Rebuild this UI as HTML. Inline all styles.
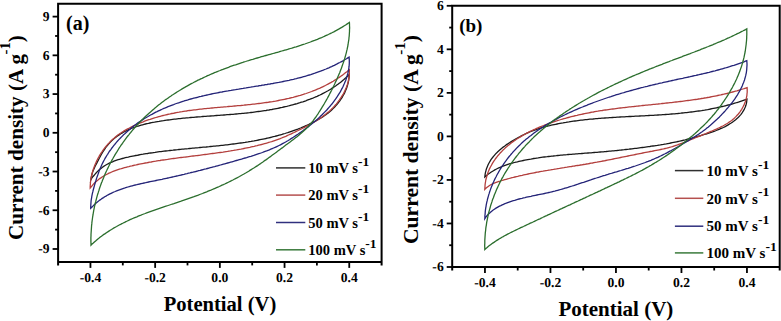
<!DOCTYPE html>
<html><head><meta charset="utf-8"><style>
html,body{margin:0;padding:0;background:#fff;}
svg{display:block;}
text{font-family:"Liberation Serif",serif;font-weight:bold;fill:#000;}
.tl{font-size:13.6px;text-rendering:geometricPrecision;}
.at{font-size:20.6px;}
</style></head><body>
<svg width="781" height="321" viewBox="0 0 781 321">
<path d="M90.9 179.8 91.1 178.2 91.4 176.7 91.7 175.2 92.1 173.8 92.5 172.4 93.0 171.1 93.6 169.7 94.2 168.4 94.8 167.1 95.4 165.8 96.1 164.5 96.8 163.1 97.5 161.7 98.2 160.4 98.9 159.0 99.7 157.5 100.4 156.1 101.2 154.7 102.0 153.3 102.8 152.0 103.7 150.6 104.6 149.3 105.5 148.0 106.4 146.7 107.4 145.5 108.3 144.3 109.3 143.2 110.4 142.1 111.4 141.0 112.5 140.0 113.6 139.0 114.8 138.1 115.9 137.2 117.1 136.3 118.3 135.4 119.5 134.6 120.7 133.8 122.0 133.1 123.3 132.3 124.5 131.6 125.8 131.0 127.2 130.3 128.5 129.7 129.9 129.1 131.2 128.5 132.6 128.0 134.0 127.5 135.4 127.0 136.8 126.5 138.2 126.0 139.7 125.6 141.1 125.2 142.6 124.8 144.0 124.4 145.5 124.0 147.0 123.7 148.5 123.4 150.0 123.0 151.5 122.7 153.0 122.4 154.5 122.2 156.0 121.9 157.5 121.6 159.0 121.4 160.5 121.1 162.0 120.9 163.5 120.7 165.1 120.4 166.6 120.2 168.1 120.0 169.6 119.8 171.1 119.6 172.6 119.4 174.2 119.2 175.7 119.1 177.2 118.9 178.7 118.7 180.2 118.6 181.7 118.4 183.2 118.2 184.8 118.1 186.3 117.9 187.8 117.8 189.3 117.7 190.8 117.5 192.3 117.4 193.8 117.3 195.3 117.1 196.9 117.0 198.4 116.9 199.9 116.8 201.4 116.7 202.9 116.5 204.4 116.4 205.9 116.3 207.4 116.2 209.0 116.1 210.5 116.0 212.0 115.9 213.5 115.8 215.0 115.6 216.5 115.5 218.0 115.4 219.5 115.3 221.0 115.2 222.5 115.1 224.0 115.0 225.5 114.9 227.0 114.7 228.6 114.6 230.1 114.5 231.6 114.4 233.1 114.3 234.6 114.1 236.1 114.0 237.6 113.9 239.1 113.7 240.6 113.6 242.1 113.4 243.6 113.3 245.1 113.1 246.6 113.0 248.1 112.8 249.6 112.7 251.1 112.5 252.6 112.3 254.1 112.1 255.6 111.9 257.0 111.7 258.5 111.5 260.0 111.3 261.5 111.1 263.0 110.9 264.5 110.7 266.0 110.5 267.5 110.2 269.0 110.0 270.5 109.7 271.9 109.5 273.4 109.2 274.9 108.9 276.4 108.6 277.9 108.3 279.4 108.0 280.8 107.7 282.3 107.4 283.8 107.0 285.3 106.7 286.8 106.4 288.2 106.0 289.7 105.6 291.2 105.2 292.6 104.8 294.1 104.4 295.6 104.0 297.1 103.6 298.5 103.1 300.0 102.7 301.4 102.2 302.9 101.8 304.3 101.3 305.8 100.8 307.2 100.2 308.7 99.7 310.1 99.2 311.5 98.6 312.9 98.1 314.3 97.5 315.7 96.9 317.1 96.3 318.5 95.6 319.9 95.0 321.3 94.3 322.6 93.6 324.0 92.9 325.3 92.2 326.6 91.5 328.0 90.8 329.3 90.0 330.6 89.2 331.8 88.4 333.1 87.6 334.4 86.8 335.6 86.0 336.8 85.1 338.0 84.2 339.2 83.3 340.4 82.4 341.6 81.4 342.7 80.5 343.9 79.5 345.0 78.5 346.1 77.5 347.2 76.4 348.3 75.4 349.3 74.3 349.2 75.8 349.1 77.3 348.9 78.8 348.7 80.3 348.4 81.7 348.1 83.2 347.7 84.6 347.3 86.1 346.8 87.5 346.3 88.9 345.7 90.3 345.1 91.7 344.5 93.1 343.8 94.4 343.0 95.8 342.3 97.1 341.5 98.4 340.6 99.6 339.8 100.9 338.8 102.1 337.9 103.3 336.9 104.5 335.9 105.6 334.9 106.8 333.9 107.8 332.8 108.9 331.7 109.9 330.6 110.9 329.4 111.9 328.3 112.9 327.1 113.8 325.9 114.7 324.6 115.5 323.4 116.4 322.2 117.2 320.9 118.0 319.6 118.8 318.3 119.5 317.0 120.3 315.7 121.0 314.3 121.7 313.0 122.4 311.6 123.1 310.3 123.7 308.9 124.4 307.5 125.0 306.1 125.6 304.8 126.2 303.4 126.8 302.0 127.4 300.6 128.0 299.2 128.5 297.8 129.1 296.4 129.6 294.9 130.1 293.5 130.6 292.1 131.1 290.7 131.6 289.2 132.1 287.8 132.6 286.4 133.0 284.9 133.5 283.5 133.9 282.0 134.4 280.6 134.8 279.1 135.2 277.7 135.6 276.2 136.0 274.7 136.4 273.3 136.7 271.8 137.1 270.3 137.5 268.9 137.8 267.4 138.1 265.9 138.5 264.4 138.8 263.0 139.1 261.5 139.4 260.0 139.7 258.5 140.0 257.0 140.3 255.5 140.6 254.1 140.9 252.6 141.1 251.1 141.4 249.6 141.6 248.1 141.9 246.6 142.1 245.1 142.4 243.6 142.6 242.1 142.8 240.7 143.0 239.2 143.2 237.7 143.4 236.2 143.6 234.7 143.8 233.2 144.0 231.7 144.2 230.2 144.4 228.7 144.6 227.2 144.8 225.7 144.9 224.2 145.1 222.7 145.3 221.2 145.4 219.7 145.6 218.2 145.8 216.7 145.9 215.2 146.1 213.7 146.2 212.2 146.4 210.7 146.5 209.2 146.7 207.7 146.8 206.1 147.0 204.6 147.1 203.1 147.2 201.6 147.4 200.1 147.5 198.6 147.7 197.1 147.8 195.6 147.9 194.1 148.1 192.6 148.2 191.1 148.4 189.6 148.5 188.1 148.7 186.6 148.8 185.1 148.9 183.6 149.1 182.1 149.2 180.6 149.4 179.1 149.5 177.6 149.7 176.1 149.8 174.5 150.0 173.0 150.2 171.5 150.3 170.0 150.5 168.5 150.7 167.0 150.8 165.5 151.0 164.0 151.2 162.5 151.4 161.0 151.6 159.5 151.7 158.0 151.9 156.6 152.1 155.1 152.4 153.6 152.6 152.1 152.8 150.6 153.0 149.1 153.2 147.6 153.5 146.1 153.7 144.6 153.9 143.1 154.2 141.6 154.4 140.1 154.7 138.7 155.0 137.2 155.3 135.7 155.5 134.2 155.8 132.7 156.1 131.2 156.4 129.8 156.7 128.3 157.1 126.8 157.4 125.3 157.7 123.9 158.1 122.4 158.5 121.0 158.9 119.5 159.3 118.1 159.7 116.7 160.2 115.3 160.7 113.9 161.2 112.5 161.8 111.1 162.3 109.8 162.9 108.5 163.6 107.2 164.3 105.9 165.0 104.6 165.8 103.4 166.6 102.2 167.5 101.0 168.4 99.8 169.3 98.7 170.3 97.6 171.4 96.5 172.5 95.5 173.6 94.5 174.8 93.5 176.0 92.5 177.2 91.6 178.5Z" fill="none" stroke="#1a1a1a" stroke-width="1.3" stroke-linejoin="miter" stroke-miterlimit="20"/>
<path d="M90.2 188.0 90.2 186.5 90.3 185.0 90.4 183.5 90.5 182.0 90.7 180.5 90.9 179.0 91.2 177.6 91.5 176.1 91.8 174.6 92.2 173.2 92.6 171.7 93.0 170.3 93.5 168.8 94.0 167.4 94.5 166.0 95.1 164.6 95.7 163.2 96.3 161.8 97.0 160.4 97.6 159.1 98.3 157.7 99.1 156.4 99.8 155.1 100.6 153.8 101.4 152.5 102.3 151.3 103.1 150.1 104.0 148.8 104.9 147.6 105.9 146.5 106.9 145.3 107.8 144.2 108.9 143.1 109.9 142.0 111.0 140.9 112.0 139.9 113.1 138.9 114.3 137.9 115.4 136.9 116.6 136.0 117.8 135.1 119.0 134.2 120.3 133.4 121.5 132.5 122.8 131.7 124.1 130.9 125.4 130.1 126.7 129.4 128.1 128.7 129.4 128.0 130.7 127.3 132.1 126.6 133.5 125.9 134.8 125.3 136.2 124.7 137.6 124.1 139.0 123.5 140.4 122.9 141.8 122.3 143.2 121.8 144.6 121.2 146.0 120.7 147.4 120.2 148.8 119.7 150.2 119.3 151.6 118.8 153.0 118.3 154.5 117.9 155.9 117.5 157.3 117.1 158.8 116.7 160.2 116.3 161.6 115.9 163.1 115.5 164.5 115.2 166.0 114.8 167.4 114.5 168.9 114.2 170.3 113.9 171.8 113.5 173.3 113.3 174.7 113.0 176.2 112.7 177.7 112.4 179.1 112.2 180.6 111.9 182.1 111.7 183.6 111.4 185.1 111.2 186.5 111.0 188.0 110.7 189.5 110.5 191.0 110.3 192.5 110.1 194.0 109.9 195.5 109.8 197.0 109.6 198.5 109.4 200.0 109.2 201.5 109.1 203.0 108.9 204.5 108.7 206.0 108.6 207.5 108.4 209.0 108.3 210.5 108.1 212.0 108.0 213.5 107.9 215.0 107.7 216.5 107.6 218.0 107.4 219.6 107.3 221.1 107.2 222.6 107.1 224.1 106.9 225.6 106.8 227.1 106.7 228.7 106.5 230.2 106.4 231.7 106.3 233.2 106.1 234.7 106.0 236.2 105.9 237.7 105.7 239.3 105.6 240.8 105.5 242.3 105.3 243.8 105.2 245.3 105.0 246.8 104.9 248.4 104.7 249.9 104.6 251.4 104.4 252.9 104.2 254.4 104.1 255.9 103.9 257.4 103.7 258.9 103.5 260.5 103.3 262.0 103.1 263.5 102.9 265.0 102.7 266.5 102.5 268.0 102.3 269.5 102.0 271.0 101.8 272.5 101.6 274.0 101.3 275.5 101.1 277.0 100.8 278.5 100.5 279.9 100.2 281.4 99.9 282.9 99.6 284.4 99.3 285.9 99.0 287.3 98.7 288.8 98.4 290.3 98.0 291.7 97.6 293.2 97.3 294.6 96.9 296.1 96.5 297.5 96.1 299.0 95.7 300.4 95.3 301.8 94.8 303.3 94.4 304.7 93.9 306.1 93.5 307.5 93.0 308.9 92.5 310.3 92.0 311.7 91.5 313.1 90.9 314.5 90.4 315.9 89.8 317.3 89.2 318.6 88.7 320.0 88.1 321.4 87.4 322.7 86.8 324.0 86.2 325.4 85.5 326.7 84.8 328.0 84.1 329.3 83.4 330.7 82.7 332.0 81.9 333.2 81.2 334.5 80.4 335.8 79.6 337.1 78.8 338.3 78.0 339.6 77.1 340.8 76.3 342.1 75.4 343.3 74.5 344.5 73.6 345.7 72.6 346.9 71.7 348.1 70.7 349.3 69.7 349.4 71.2 349.3 72.7 349.3 74.2 349.2 75.7 349.0 77.1 348.8 78.6 348.5 80.1 348.2 81.5 347.8 83.0 347.4 84.4 346.9 85.8 346.4 87.2 345.8 88.6 345.2 90.0 344.6 91.4 343.9 92.7 343.2 94.1 342.4 95.4 341.6 96.7 340.8 98.0 339.9 99.2 339.1 100.5 338.1 101.7 337.2 102.9 336.2 104.1 335.2 105.2 334.2 106.4 333.2 107.5 332.1 108.6 331.0 109.6 329.9 110.7 328.8 111.7 327.6 112.6 326.5 113.6 325.3 114.5 324.1 115.4 322.9 116.3 321.7 117.2 320.5 118.1 319.2 118.9 318.0 119.7 316.7 120.5 315.4 121.3 314.1 122.1 312.8 122.8 311.5 123.6 310.2 124.3 308.9 125.0 307.5 125.7 306.2 126.4 304.9 127.1 303.5 127.8 302.2 128.5 300.8 129.2 299.4 129.8 298.1 130.5 296.7 131.2 295.4 131.8 294.0 132.5 292.6 133.1 291.3 133.8 289.9 134.4 288.5 135.0 287.2 135.6 285.8 136.3 284.4 136.9 283.0 137.4 281.6 138.0 280.2 138.6 278.8 139.1 277.4 139.6 276.0 140.1 274.6 140.6 273.1 141.1 271.7 141.6 270.3 142.0 268.8 142.4 267.4 142.9 265.9 143.3 264.5 143.7 263.0 144.1 261.5 144.5 260.1 144.8 258.6 145.2 257.2 145.6 255.7 145.9 254.2 146.3 252.7 146.6 251.3 146.9 249.8 147.3 248.3 147.6 246.9 147.9 245.4 148.2 243.9 148.5 242.4 148.8 240.9 149.1 239.5 149.3 238.0 149.6 236.5 149.9 235.0 150.1 233.5 150.4 232.0 150.6 230.5 150.9 229.1 151.1 227.6 151.4 226.1 151.6 224.6 151.8 223.1 152.1 221.6 152.3 220.1 152.5 218.6 152.7 217.1 152.9 215.6 153.1 214.1 153.3 212.6 153.5 211.1 153.7 209.6 153.9 208.1 154.1 206.6 154.3 205.1 154.5 203.6 154.7 202.1 154.9 200.6 155.1 199.1 155.3 197.6 155.5 196.1 155.6 194.6 155.8 193.1 156.0 191.6 156.2 190.1 156.4 188.6 156.6 187.1 156.8 185.6 157.0 184.1 157.1 182.6 157.3 181.1 157.5 179.6 157.7 178.1 157.9 176.6 158.1 175.1 158.3 173.6 158.5 172.1 158.7 170.6 158.9 169.1 159.1 167.6 159.4 166.1 159.6 164.6 159.8 163.1 160.0 161.6 160.2 160.1 160.5 158.6 160.7 157.1 160.9 155.7 161.2 154.2 161.4 152.7 161.7 151.2 162.0 149.7 162.2 148.2 162.5 146.7 162.8 145.2 163.0 143.7 163.3 142.3 163.6 140.8 163.9 139.3 164.2 137.8 164.5 136.3 164.9 134.8 165.2 133.4 165.5 131.9 165.9 130.4 166.2 128.9 166.6 127.5 166.9 126.0 167.3 124.5 167.7 123.1 168.1 121.6 168.5 120.2 169.0 118.7 169.4 117.3 169.9 115.9 170.4 114.5 170.9 113.1 171.4 111.7 172.0 110.4 172.6 109.0 173.2 107.7 173.9 106.4 174.5 105.1 175.3 103.8 176.0 102.5 176.8 101.3 177.6 100.0 178.4 98.8 179.3 97.7 180.3 96.5 181.2 95.4 182.2 94.3 183.3 93.2 184.4 92.2 185.6 91.2 186.8Z" fill="none" stroke="#b33f3d" stroke-width="1.3" stroke-linejoin="miter" stroke-miterlimit="20"/>
<path d="M90.7 208.3 90.7 206.8 90.8 205.3 90.9 203.8 91.0 202.3 91.1 200.8 91.3 199.3 91.6 197.8 91.8 196.3 92.1 194.9 92.4 193.4 92.8 191.9 93.1 190.5 93.5 189.0 93.9 187.5 94.3 186.1 94.7 184.6 95.1 183.2 95.5 181.8 96.0 180.3 96.4 178.9 96.9 177.4 97.4 176.0 97.9 174.6 98.4 173.2 98.9 171.8 99.4 170.4 100.0 169.0 100.6 167.6 101.2 166.2 101.8 164.8 102.4 163.5 103.1 162.1 103.8 160.8 104.5 159.5 105.2 158.1 106.0 156.8 106.8 155.5 107.6 154.3 108.4 153.0 109.2 151.7 110.1 150.5 111.0 149.3 111.9 148.0 112.8 146.8 113.7 145.6 114.7 144.5 115.6 143.3 116.6 142.1 117.6 141.0 118.6 139.9 119.7 138.8 120.7 137.7 121.8 136.6 122.9 135.5 123.9 134.4 125.1 133.4 126.2 132.4 127.3 131.4 128.4 130.4 129.6 129.4 130.7 128.4 131.9 127.5 133.1 126.5 134.3 125.6 135.5 124.7 136.7 123.8 137.9 122.9 139.1 122.1 140.4 121.2 141.6 120.4 142.9 119.6 144.1 118.8 145.4 118.0 146.7 117.2 148.0 116.5 149.3 115.7 150.5 115.0 151.9 114.3 153.2 113.6 154.5 112.9 155.8 112.2 157.1 111.6 158.5 110.9 159.8 110.3 161.2 109.7 162.5 109.0 163.9 108.4 165.3 107.9 166.6 107.3 168.0 106.7 169.4 106.2 170.8 105.6 172.2 105.1 173.6 104.6 175.0 104.0 176.4 103.5 177.8 103.0 179.3 102.6 180.7 102.1 182.1 101.6 183.6 101.2 185.0 100.7 186.4 100.3 187.9 99.9 189.3 99.4 190.8 99.0 192.3 98.6 193.7 98.2 195.2 97.8 196.7 97.5 198.1 97.1 199.6 96.7 201.1 96.4 202.6 96.0 204.0 95.7 205.5 95.3 207.0 95.0 208.5 94.7 210.0 94.3 211.5 94.0 213.0 93.7 214.5 93.4 216.0 93.1 217.5 92.8 219.0 92.5 220.5 92.2 222.0 92.0 223.5 91.7 225.0 91.4 226.5 91.1 228.0 90.9 229.5 90.6 231.0 90.4 232.5 90.1 234.0 89.8 235.5 89.6 237.0 89.3 238.6 89.1 240.1 88.8 241.6 88.6 243.1 88.4 244.6 88.1 246.1 87.9 247.6 87.6 249.1 87.4 250.6 87.2 252.1 86.9 253.6 86.7 255.1 86.4 256.6 86.2 258.1 86.0 259.6 85.7 261.0 85.5 262.5 85.2 264.0 85.0 265.5 84.7 267.0 84.5 268.5 84.2 270.0 84.0 271.5 83.7 272.9 83.5 274.4 83.2 275.9 82.9 277.4 82.6 278.8 82.4 280.3 82.1 281.8 81.8 283.2 81.5 284.7 81.2 286.2 80.9 287.6 80.6 289.1 80.3 290.5 79.9 292.0 79.6 293.5 79.3 294.9 78.9 296.4 78.6 297.8 78.2 299.2 77.8 300.7 77.5 302.1 77.1 303.6 76.7 305.0 76.3 306.4 75.9 307.8 75.4 309.3 75.0 310.7 74.6 312.1 74.1 313.5 73.6 314.9 73.2 316.3 72.7 317.7 72.2 319.1 71.7 320.5 71.2 321.9 70.6 323.3 70.1 324.7 69.5 326.1 69.0 327.5 68.4 328.9 67.8 330.2 67.2 331.6 66.6 333.0 65.9 334.3 65.3 335.7 64.6 337.1 63.9 338.4 63.2 339.8 62.5 341.1 61.8 342.5 61.1 343.8 60.3 345.1 59.5 346.5 58.7 347.8 57.9 349.1 57.1 349.2 58.6 349.3 60.1 349.3 61.7 349.3 63.2 349.2 64.7 349.1 66.2 348.9 67.6 348.7 69.1 348.4 70.6 348.1 72.1 347.8 73.5 347.4 75.0 347.0 76.4 346.6 77.8 346.1 79.3 345.6 80.7 345.0 82.1 344.4 83.5 343.8 84.8 343.2 86.2 342.5 87.6 341.8 88.9 341.1 90.2 340.4 91.6 339.6 92.9 338.8 94.1 338.0 95.4 337.2 96.7 336.4 97.9 335.5 99.2 334.6 100.4 333.7 101.6 332.8 102.8 331.9 104.0 330.9 105.1 330.0 106.3 329.0 107.4 328.0 108.5 327.0 109.7 326.0 110.8 324.9 111.9 323.9 112.9 322.8 114.0 321.8 115.1 320.7 116.1 319.6 117.1 318.5 118.2 317.4 119.2 316.2 120.2 315.1 121.2 313.9 122.1 312.8 123.1 311.6 124.1 310.4 125.0 309.2 125.9 308.1 126.9 306.9 127.8 305.6 128.7 304.4 129.6 303.2 130.5 302.0 131.4 300.8 132.2 299.5 133.1 298.3 134.0 297.0 134.8 295.8 135.6 294.5 136.5 293.3 137.3 292.0 138.1 290.7 138.9 289.5 139.7 288.2 140.5 286.9 141.2 285.6 142.0 284.3 142.7 283.0 143.4 281.7 144.1 280.4 144.8 279.0 145.5 277.7 146.2 276.3 146.8 275.0 147.4 273.6 148.0 272.2 148.6 270.8 149.2 269.4 149.8 268.1 150.3 266.6 150.9 265.2 151.4 263.8 151.9 262.4 152.5 261.0 153.0 259.6 153.5 258.1 153.9 256.7 154.4 255.3 154.9 253.8 155.4 252.4 155.8 250.9 156.3 249.5 156.7 248.0 157.1 246.6 157.6 245.1 158.0 243.7 158.4 242.2 158.9 240.8 159.3 239.3 159.7 237.9 160.1 236.4 160.5 235.0 160.9 233.5 161.4 232.1 161.8 230.6 162.2 229.2 162.6 227.7 163.0 226.3 163.4 224.8 163.8 223.4 164.2 221.9 164.6 220.5 165.0 219.0 165.4 217.6 165.8 216.1 166.2 214.7 166.6 213.2 166.9 211.8 167.3 210.3 167.7 208.9 168.1 207.4 168.5 206.0 168.9 204.5 169.2 203.1 169.6 201.6 170.0 200.2 170.4 198.7 170.7 197.3 171.1 195.8 171.5 194.4 171.8 192.9 172.2 191.4 172.5 190.0 172.9 188.5 173.2 187.1 173.6 185.6 173.9 184.1 174.3 182.7 174.6 181.2 175.0 179.7 175.3 178.3 175.7 176.8 176.0 175.3 176.3 173.8 176.7 172.4 177.0 170.9 177.3 169.4 177.7 167.9 178.0 166.5 178.3 165.0 178.6 163.5 178.9 162.0 179.3 160.5 179.6 159.0 179.9 157.5 180.2 156.1 180.5 154.6 180.8 153.1 181.1 151.6 181.4 150.1 181.7 148.6 182.0 147.1 182.3 145.6 182.7 144.1 183.0 142.6 183.3 141.1 183.6 139.6 184.0 138.1 184.3 136.7 184.7 135.2 185.0 133.7 185.4 132.3 185.8 130.8 186.2 129.3 186.6 127.9 187.0 126.5 187.4 125.0 187.9 123.6 188.3 122.2 188.8 120.8 189.3 119.4 189.8 118.0 190.3 116.6 190.9 115.2 191.5 113.9 192.0 112.5 192.7 111.2 193.3 109.9 193.9 108.6 194.6 107.3 195.3 106.0 196.1 104.7 196.8 103.5 197.6 102.2 198.4 101.0 199.3 99.8 200.1 98.6 201.1 97.4 202.0 96.2 203.0 95.1 204.0 94.0 205.0 92.9 206.1 91.8 207.2Z" fill="none" stroke="#242478" stroke-width="1.3" stroke-linejoin="miter" stroke-miterlimit="20"/>
<path d="M91.0 245.1 91.0 243.6 90.9 242.1 90.9 240.5 90.9 239.0 90.9 237.5 91.0 236.0 91.0 234.5 91.1 233.0 91.2 231.5 91.3 230.0 91.4 228.5 91.5 227.0 91.6 225.4 91.8 223.9 91.9 222.4 92.1 221.0 92.3 219.5 92.5 218.0 92.7 216.5 93.0 215.0 93.2 213.5 93.5 212.0 93.7 210.5 94.0 209.1 94.3 207.6 94.6 206.1 95.0 204.7 95.3 203.2 95.7 201.7 96.0 200.3 96.4 198.8 96.8 197.4 97.2 195.9 97.6 194.5 98.1 193.0 98.5 191.6 99.0 190.2 99.4 188.7 99.9 187.3 100.4 185.9 100.9 184.5 101.4 183.1 102.0 181.7 102.5 180.3 103.1 178.9 103.7 177.5 104.2 176.1 104.8 174.7 105.4 173.3 106.0 172.0 106.7 170.6 107.3 169.2 108.0 167.9 108.6 166.5 109.3 165.2 110.0 163.8 110.7 162.5 111.4 161.2 112.1 159.9 112.9 158.5 113.6 157.2 114.4 155.9 115.1 154.6 115.9 153.3 116.7 152.1 117.5 150.8 118.3 149.5 119.1 148.2 119.9 147.0 120.8 145.7 121.6 144.5 122.5 143.3 123.3 142.0 124.2 140.8 125.1 139.6 126.0 138.4 126.9 137.2 127.8 136.0 128.8 134.8 129.7 133.6 130.7 132.5 131.6 131.3 132.6 130.1 133.6 129.0 134.6 127.9 135.6 126.7 136.6 125.6 137.6 124.5 138.6 123.4 139.6 122.3 140.7 121.2 141.7 120.1 142.8 119.1 143.9 118.0 144.9 117.0 146.0 115.9 147.1 114.9 148.2 113.9 149.3 112.9 150.5 111.9 151.6 110.9 152.7 109.9 153.9 108.9 155.0 107.9 156.2 107.0 157.4 106.0 158.5 105.1 159.7 104.2 160.9 103.2 162.1 102.3 163.3 101.4 164.5 100.5 165.7 99.6 167.0 98.8 168.2 97.9 169.4 97.0 170.7 96.2 171.9 95.3 173.2 94.5 174.4 93.7 175.7 92.9 177.0 92.0 178.3 91.2 179.5 90.5 180.8 89.7 182.1 88.9 183.4 88.1 184.7 87.4 186.0 86.6 187.4 85.9 188.7 85.1 190.0 84.4 191.3 83.7 192.7 83.0 194.0 82.3 195.3 81.6 196.7 80.9 198.0 80.2 199.4 79.6 200.7 78.9 202.1 78.3 203.5 77.6 204.8 77.0 206.2 76.4 207.6 75.7 209.0 75.1 210.3 74.5 211.7 73.9 213.1 73.3 214.5 72.7 215.9 72.2 217.3 71.6 218.7 71.0 220.1 70.5 221.5 69.9 222.9 69.4 224.3 68.8 225.7 68.3 227.1 67.8 228.5 67.3 229.9 66.7 231.3 66.2 232.8 65.7 234.2 65.2 235.6 64.8 237.0 64.3 238.5 63.8 239.9 63.3 241.3 62.8 242.8 62.4 244.2 61.9 245.6 61.5 247.1 61.0 248.5 60.6 250.0 60.1 251.4 59.7 252.8 59.3 254.3 58.8 255.7 58.4 257.2 58.0 258.6 57.6 260.1 57.2 261.5 56.7 263.0 56.3 264.4 55.9 265.9 55.5 267.3 55.1 268.8 54.7 270.2 54.3 271.7 53.9 273.1 53.5 274.6 53.1 276.0 52.7 277.5 52.3 278.9 51.9 280.4 51.4 281.8 51.0 283.3 50.6 284.7 50.2 286.2 49.8 287.6 49.4 289.1 48.9 290.5 48.5 291.9 48.1 293.4 47.6 294.8 47.2 296.2 46.8 297.7 46.3 299.1 45.8 300.5 45.4 301.9 44.9 303.4 44.4 304.8 44.0 306.2 43.5 307.6 43.0 309.0 42.5 310.4 42.0 311.8 41.4 313.2 40.9 314.6 40.4 316.0 39.8 317.4 39.3 318.8 38.7 320.2 38.1 321.6 37.6 322.9 37.0 324.3 36.4 325.7 35.7 327.0 35.1 328.4 34.5 329.7 33.8 331.1 33.2 332.4 32.5 333.8 31.8 335.1 31.1 336.4 30.4 337.8 29.6 339.1 28.9 340.4 28.1 341.7 27.4 343.0 26.6 344.3 25.8 345.6 25.0 346.9 24.1 348.1 23.3 349.4 22.4 349.5 23.9 349.5 25.5 349.6 27.0 349.6 28.5 349.5 30.0 349.5 31.5 349.4 33.0 349.3 34.5 349.2 36.1 349.0 37.5 348.9 39.0 348.7 40.5 348.4 42.0 348.2 43.5 348.0 45.0 347.7 46.5 347.4 47.9 347.1 49.4 346.7 50.9 346.4 52.3 346.0 53.8 345.6 55.3 345.2 56.7 344.8 58.2 344.4 59.6 343.9 61.0 343.4 62.5 342.9 63.9 342.4 65.3 341.9 66.8 341.4 68.2 340.9 69.6 340.3 71.0 339.8 72.4 339.2 73.8 338.6 75.2 338.0 76.6 337.4 78.0 336.8 79.4 336.2 80.7 335.5 82.1 334.9 83.5 334.3 84.8 333.6 86.2 332.9 87.6 332.3 88.9 331.6 90.3 330.9 91.6 330.2 92.9 329.5 94.3 328.8 95.6 328.1 96.9 327.4 98.2 326.6 99.6 325.9 100.9 325.1 102.2 324.4 103.5 323.6 104.8 322.8 106.1 322.0 107.4 321.3 108.7 320.5 109.9 319.7 111.2 318.8 112.5 318.0 113.8 317.2 115.0 316.3 116.3 315.5 117.5 314.6 118.7 313.7 119.9 312.8 121.1 311.8 122.3 310.9 123.5 309.9 124.6 308.9 125.7 307.9 126.8 306.9 127.9 305.8 129.0 304.7 130.0 303.6 131.0 302.5 132.0 301.4 133.0 300.2 134.0 299.1 135.0 297.9 135.9 296.7 136.9 295.5 137.8 294.3 138.8 293.1 139.7 291.9 140.6 290.7 141.5 289.5 142.4 288.3 143.3 287.0 144.2 285.8 145.1 284.6 146.1 283.4 147.0 282.2 147.9 280.9 148.8 279.7 149.7 278.5 150.6 277.3 151.5 276.1 152.4 274.9 153.3 273.6 154.2 272.4 155.1 271.2 156.0 270.0 156.9 268.7 157.8 267.5 158.7 266.3 159.6 265.0 160.4 263.8 161.3 262.6 162.2 261.3 163.0 260.1 163.9 258.8 164.7 257.6 165.6 256.3 166.4 255.0 167.2 253.8 168.0 252.5 168.8 251.2 169.6 249.9 170.4 248.7 171.2 247.4 172.0 246.1 172.8 244.8 173.5 243.5 174.3 242.1 175.0 240.8 175.7 239.5 176.5 238.2 177.2 236.9 177.9 235.5 178.6 234.2 179.3 232.9 180.0 231.5 180.7 230.2 181.3 228.8 182.0 227.5 182.7 226.1 183.3 224.7 184.0 223.4 184.6 222.0 185.2 220.6 185.9 219.3 186.5 217.9 187.1 216.5 187.7 215.1 188.3 213.7 188.9 212.3 189.5 210.9 190.1 209.5 190.6 208.1 191.2 206.7 191.8 205.3 192.3 203.9 192.9 202.5 193.5 201.1 194.0 199.7 194.5 198.3 195.1 196.9 195.6 195.4 196.1 194.0 196.7 192.6 197.2 191.2 197.7 189.7 198.2 188.3 198.7 186.9 199.2 185.4 199.7 184.0 200.2 182.5 200.7 181.1 201.2 179.7 201.6 178.2 202.1 176.8 202.6 175.3 203.1 173.9 203.6 172.4 204.0 171.0 204.5 169.6 205.0 168.1 205.5 166.7 206.0 165.2 206.4 163.8 206.9 162.4 207.4 160.9 207.9 159.5 208.4 158.1 208.9 156.6 209.4 155.2 209.9 153.8 210.4 152.3 210.9 150.9 211.4 149.5 211.9 148.1 212.4 146.7 212.9 145.2 213.5 143.8 214.0 142.4 214.5 141.0 215.1 139.6 215.6 138.2 216.2 136.9 216.8 135.5 217.3 134.1 217.9 132.7 218.5 131.3 219.1 130.0 219.7 128.6 220.4 127.3 221.0 125.9 221.6 124.6 222.3 123.2 223.0 121.9 223.6 120.6 224.3 119.2 225.0 117.9 225.7 116.6 226.5 115.3 227.2 114.0 227.9 112.7 228.7 111.5 229.5 110.2 230.3 108.9 231.1 107.7 231.9 106.4 232.7 105.2 233.6 103.9 234.4 102.7 235.3 101.5 236.2 100.3 237.1 99.1 238.1 97.9 239.0 96.7 240.0 95.6 241.0 94.4 242.0 93.3 243.0 92.1 244.0Z" fill="none" stroke="#2b6e2d" stroke-width="1.3" stroke-linejoin="miter" stroke-miterlimit="20"/>
<path d="M484.8 177.0 485.0 175.4 485.2 173.8 485.5 172.3 485.9 170.8 486.3 169.3 486.8 167.9 487.4 166.5 488.0 165.1 488.6 163.8 489.3 162.5 490.1 161.2 490.8 159.9 491.7 158.7 492.6 157.5 493.5 156.4 494.4 155.3 495.4 154.1 496.5 153.1 497.5 152.0 498.6 151.0 499.7 150.0 500.9 149.0 502.1 148.0 503.2 147.1 504.5 146.2 505.7 145.3 506.9 144.4 508.2 143.6 509.5 142.7 510.8 141.9 512.1 141.1 513.4 140.3 514.7 139.6 516.0 138.8 517.4 138.0 518.7 137.3 520.1 136.6 521.4 135.9 522.8 135.2 524.1 134.5 525.5 133.8 526.9 133.2 528.3 132.6 529.6 132.0 531.0 131.4 532.4 130.8 533.8 130.3 535.3 129.8 536.7 129.3 538.1 128.8 539.5 128.3 541.0 127.9 542.4 127.5 543.9 127.1 545.3 126.7 546.8 126.3 548.2 125.9 549.7 125.6 551.2 125.2 552.6 124.9 554.1 124.6 555.6 124.3 557.1 124.0 558.5 123.7 560.0 123.4 561.5 123.1 563.0 122.9 564.5 122.6 565.9 122.4 567.4 122.1 568.9 121.9 570.4 121.6 571.9 121.4 573.4 121.2 574.9 121.0 576.4 120.8 577.9 120.6 579.4 120.4 580.9 120.2 582.4 120.1 583.9 119.9 585.4 119.7 586.9 119.6 588.4 119.4 589.9 119.2 591.4 119.1 592.9 119.0 594.4 118.8 595.9 118.7 597.4 118.6 598.9 118.4 600.4 118.3 601.9 118.2 603.4 118.1 604.9 118.0 606.5 117.9 608.0 117.8 609.5 117.7 611.0 117.6 612.5 117.5 614.0 117.4 615.5 117.3 617.1 117.2 618.6 117.1 620.1 117.0 621.6 116.9 623.1 116.9 624.6 116.8 626.2 116.7 627.7 116.6 629.2 116.5 630.7 116.5 632.2 116.4 633.8 116.3 635.3 116.2 636.8 116.1 638.3 116.1 639.8 116.0 641.3 115.9 642.9 115.8 644.4 115.8 645.9 115.7 647.4 115.6 648.9 115.5 650.4 115.4 652.0 115.3 653.5 115.3 655.0 115.2 656.5 115.1 658.0 115.0 659.5 114.9 661.1 114.8 662.6 114.7 664.1 114.6 665.6 114.5 667.1 114.4 668.6 114.3 670.1 114.1 671.6 114.0 673.1 113.9 674.7 113.8 676.2 113.6 677.7 113.5 679.2 113.3 680.7 113.2 682.2 113.0 683.7 112.9 685.2 112.7 686.7 112.6 688.2 112.4 689.7 112.2 691.2 112.0 692.7 111.8 694.2 111.6 695.7 111.4 697.2 111.2 698.7 111.0 700.2 110.8 701.6 110.6 703.1 110.3 704.6 110.1 706.1 109.8 707.6 109.6 709.1 109.3 710.6 109.0 712.0 108.7 713.5 108.4 715.0 108.1 716.5 107.8 717.9 107.5 719.4 107.2 720.9 106.9 722.3 106.5 723.8 106.2 725.3 105.8 726.7 105.4 728.2 105.0 729.7 104.7 731.1 104.3 732.6 103.8 734.0 103.4 735.5 103.0 736.9 102.5 738.4 102.1 739.8 101.6 741.3 101.1 742.7 100.6 744.1 100.1 745.6 99.6 747.0 99.1 746.8 100.7 746.6 102.3 746.3 103.8 745.9 105.3 745.4 106.7 744.8 108.1 744.2 109.4 743.5 110.7 742.7 111.9 741.9 113.1 741.0 114.3 740.1 115.4 739.1 116.5 738.1 117.5 737.0 118.5 735.9 119.5 734.7 120.4 733.6 121.3 732.4 122.2 731.2 123.0 729.9 123.8 728.6 124.6 727.3 125.4 726.0 126.1 724.7 126.8 723.3 127.5 721.9 128.1 720.5 128.7 719.1 129.4 717.6 129.9 716.2 130.5 714.7 131.1 713.3 131.6 711.8 132.1 710.3 132.6 708.8 133.1 707.4 133.6 705.9 134.0 704.4 134.5 702.9 134.9 701.4 135.4 699.9 135.8 698.4 136.2 697.0 136.6 695.5 137.1 694.0 137.5 692.6 137.9 691.1 138.3 689.7 138.6 688.2 139.0 686.8 139.4 685.3 139.8 683.9 140.1 682.4 140.5 681.0 140.8 679.5 141.2 678.0 141.5 676.6 141.8 675.1 142.1 673.7 142.4 672.2 142.7 670.7 143.0 669.3 143.3 667.8 143.6 666.3 143.9 664.8 144.1 663.4 144.4 661.9 144.6 660.4 144.9 658.9 145.1 657.4 145.4 655.9 145.6 654.4 145.8 652.9 146.0 651.4 146.2 649.9 146.5 648.4 146.7 646.9 146.9 645.4 147.1 643.9 147.3 642.4 147.5 640.9 147.7 639.4 147.9 637.9 148.1 636.4 148.3 634.9 148.4 633.4 148.6 631.9 148.8 630.4 149.0 628.9 149.2 627.4 149.3 625.9 149.5 624.3 149.7 622.8 149.8 621.3 150.0 619.8 150.1 618.3 150.3 616.8 150.5 615.3 150.6 613.8 150.8 612.3 150.9 610.8 151.1 609.2 151.2 607.7 151.3 606.2 151.5 604.7 151.6 603.2 151.8 601.7 151.9 600.2 152.0 598.6 152.1 597.1 152.3 595.6 152.4 594.1 152.5 592.6 152.6 591.1 152.8 589.6 152.9 588.0 153.0 586.5 153.1 585.0 153.2 583.5 153.4 582.0 153.5 580.5 153.6 578.9 153.7 577.4 153.8 575.9 153.9 574.4 154.1 572.9 154.2 571.4 154.3 569.9 154.4 568.3 154.5 566.8 154.7 565.3 154.8 563.8 154.9 562.3 155.1 560.8 155.2 559.3 155.4 557.8 155.5 556.3 155.7 554.8 155.8 553.2 156.0 551.7 156.1 550.2 156.3 548.7 156.5 547.2 156.7 545.7 156.8 544.2 157.0 542.7 157.2 541.2 157.4 539.7 157.6 538.2 157.9 536.7 158.1 535.2 158.3 533.7 158.5 532.2 158.8 530.8 159.1 529.3 159.3 527.8 159.6 526.3 159.9 524.8 160.2 523.3 160.5 521.8 160.8 520.3 161.1 518.9 161.4 517.4 161.8 515.9 162.1 514.5 162.5 513.0 162.9 511.5 163.3 510.1 163.7 508.6 164.1 507.2 164.6 505.8 165.1 504.4 165.6 503.0 166.1 501.6 166.7 500.2 167.3 498.8 167.9 497.4 168.5 496.1 169.2 494.8 169.9 493.5 170.7 492.2 171.5 490.9 172.3 489.6 173.2 488.4 174.1 487.2 175.0 486.0 176.0Z" fill="none" stroke="#1a1a1a" stroke-width="1.3" stroke-linejoin="miter" stroke-miterlimit="20"/>
<path d="M484.8 189.4 484.9 187.8 485.0 186.2 485.1 184.6 485.3 183.1 485.6 181.5 485.8 180.0 486.2 178.5 486.6 177.0 487.0 175.6 487.4 174.2 487.9 172.7 488.5 171.3 489.0 170.0 489.6 168.6 490.3 167.3 491.0 166.0 491.7 164.7 492.4 163.4 493.2 162.1 494.0 160.9 494.9 159.7 495.7 158.5 496.6 157.3 497.5 156.1 498.5 155.0 499.5 153.9 500.4 152.8 501.5 151.7 502.5 150.6 503.6 149.6 504.6 148.6 505.7 147.6 506.9 146.6 508.0 145.6 509.2 144.7 510.3 143.7 511.5 142.8 512.7 141.9 514.0 141.0 515.2 140.2 516.4 139.3 517.7 138.5 519.0 137.7 520.3 136.9 521.6 136.1 522.9 135.3 524.2 134.6 525.6 133.8 526.9 133.1 528.3 132.4 529.6 131.7 531.0 131.0 532.4 130.4 533.8 129.7 535.2 129.1 536.6 128.4 538.0 127.8 539.4 127.2 540.8 126.6 542.3 126.0 543.7 125.5 545.1 124.9 546.6 124.4 548.0 123.8 549.4 123.3 550.9 122.8 552.3 122.3 553.7 121.8 555.2 121.3 556.6 120.9 558.1 120.4 559.5 120.0 561.0 119.5 562.4 119.1 563.9 118.7 565.4 118.3 566.8 117.9 568.3 117.5 569.7 117.1 571.2 116.7 572.7 116.3 574.1 116.0 575.6 115.6 577.1 115.3 578.6 114.9 580.0 114.6 581.5 114.3 583.0 114.0 584.5 113.7 585.9 113.4 587.4 113.1 588.9 112.8 590.4 112.5 591.9 112.2 593.4 112.0 594.8 111.7 596.3 111.4 597.8 111.2 599.3 110.9 600.8 110.7 602.3 110.5 603.8 110.2 605.3 110.0 606.8 109.8 608.3 109.6 609.8 109.4 611.3 109.2 612.8 109.0 614.3 108.8 615.8 108.6 617.3 108.4 618.8 108.2 620.3 108.0 621.8 107.8 623.3 107.6 624.8 107.5 626.3 107.3 627.8 107.1 629.3 106.9 630.8 106.8 632.3 106.6 633.8 106.5 635.3 106.3 636.8 106.1 638.3 106.0 639.8 105.8 641.4 105.7 642.9 105.5 644.4 105.4 645.9 105.2 647.4 105.1 648.9 104.9 650.4 104.8 651.9 104.6 653.4 104.4 654.9 104.3 656.4 104.1 657.9 104.0 659.5 103.8 661.0 103.7 662.5 103.5 664.0 103.4 665.5 103.2 667.0 103.0 668.5 102.9 670.0 102.7 671.5 102.6 673.0 102.4 674.5 102.2 676.0 102.0 677.5 101.9 679.0 101.7 680.5 101.5 682.0 101.3 683.5 101.1 685.0 100.9 686.5 100.7 688.0 100.5 689.5 100.3 691.0 100.1 692.5 99.9 694.0 99.7 695.5 99.5 697.0 99.3 698.5 99.0 700.0 98.8 701.5 98.5 703.0 98.3 704.5 98.0 706.0 97.8 707.5 97.5 709.0 97.3 710.4 97.0 711.9 96.7 713.4 96.4 714.9 96.1 716.4 95.8 717.8 95.5 719.3 95.2 720.8 94.9 722.3 94.5 723.7 94.2 725.2 93.8 726.7 93.5 728.2 93.1 729.6 92.8 731.1 92.4 732.6 92.0 734.0 91.6 735.5 91.2 736.9 90.8 738.4 90.3 739.9 89.9 741.3 89.5 742.8 89.0 744.2 88.6 745.7 88.1 747.1 87.6 747.2 89.2 747.2 90.7 747.2 92.3 747.0 93.8 746.9 95.3 746.6 96.8 746.3 98.3 745.9 99.8 745.5 101.2 745.0 102.6 744.4 104.0 743.8 105.4 743.1 106.7 742.4 108.0 741.7 109.3 740.8 110.6 740.0 111.8 739.1 113.0 738.1 114.2 737.1 115.3 736.1 116.4 735.1 117.4 734.0 118.4 732.8 119.4 731.7 120.4 730.5 121.3 729.2 122.1 728.0 123.0 726.7 123.8 725.4 124.5 724.1 125.3 722.8 126.0 721.4 126.7 720.1 127.4 718.7 128.0 717.3 128.7 715.9 129.3 714.5 129.9 713.1 130.5 711.7 131.1 710.2 131.7 708.8 132.3 707.4 132.9 706.0 133.5 704.6 134.0 703.2 134.6 701.8 135.2 700.4 135.8 699.0 136.3 697.6 136.9 696.2 137.5 694.8 138.0 693.4 138.6 692.0 139.1 690.6 139.7 689.2 140.3 687.9 140.8 686.5 141.4 685.1 142.0 683.7 142.5 682.3 143.1 680.9 143.6 679.5 144.1 678.1 144.7 676.7 145.2 675.2 145.6 673.8 146.1 672.4 146.6 671.0 147.0 669.5 147.4 668.0 147.8 666.6 148.2 665.1 148.5 663.6 148.9 662.2 149.2 660.7 149.5 659.2 149.8 657.7 150.1 656.2 150.4 654.7 150.7 653.2 151.0 651.7 151.3 650.2 151.5 648.8 151.8 647.3 152.1 645.8 152.4 644.3 152.7 642.8 153.0 641.3 153.3 639.8 153.6 638.4 153.9 636.9 154.2 635.4 154.5 633.9 154.8 632.4 155.1 630.9 155.4 629.5 155.7 628.0 156.0 626.5 156.3 625.0 156.6 623.6 156.9 622.1 157.2 620.6 157.5 619.1 157.8 617.7 158.1 616.2 158.4 614.7 158.7 613.2 159.0 611.7 159.3 610.3 159.6 608.8 159.9 607.3 160.2 605.8 160.5 604.3 160.8 602.9 161.0 601.4 161.3 599.9 161.6 598.4 161.9 596.9 162.2 595.4 162.4 593.9 162.7 592.5 163.0 591.0 163.2 589.5 163.5 588.0 163.8 586.5 164.0 585.0 164.3 583.5 164.5 582.0 164.8 580.5 165.0 579.0 165.3 577.5 165.5 576.0 165.7 574.5 166.0 573.0 166.2 571.5 166.5 570.0 166.7 568.5 166.9 567.0 167.2 565.5 167.4 564.0 167.7 562.5 167.9 561.0 168.1 559.5 168.4 558.0 168.6 556.5 168.9 555.0 169.1 553.5 169.4 552.0 169.6 550.5 169.9 549.0 170.1 547.5 170.4 546.0 170.6 544.5 170.9 543.0 171.2 541.5 171.4 540.0 171.7 538.5 172.0 537.0 172.2 535.6 172.5 534.1 172.8 532.6 173.1 531.1 173.4 529.6 173.7 528.1 174.0 526.7 174.3 525.2 174.6 523.7 174.9 522.2 175.3 520.8 175.6 519.3 175.9 517.8 176.3 516.4 176.6 514.9 177.0 513.4 177.4 512.0 177.7 510.5 178.1 509.1 178.5 507.6 178.9 506.2 179.3 504.7 179.7 503.3 180.1 501.9 180.5 500.4 181.0 499.0 181.4 497.6 181.9 496.2 182.4 494.8 182.9 493.4 183.5 492.1 184.1 490.8 184.8 489.5 185.5 488.2 186.4 487.1 187.3 485.9 188.3Z" fill="none" stroke="#b33f3d" stroke-width="1.3" stroke-linejoin="miter" stroke-miterlimit="20"/>
<path d="M484.8 218.7 484.9 217.2 484.9 215.7 485.1 214.1 485.2 212.6 485.3 211.1 485.5 209.6 485.7 208.1 486.0 206.6 486.2 205.2 486.5 203.7 486.8 202.2 487.2 200.7 487.5 199.2 487.9 197.8 488.3 196.3 488.7 194.9 489.2 193.4 489.6 192.0 490.1 190.6 490.6 189.1 491.1 187.7 491.7 186.3 492.3 184.9 492.8 183.5 493.5 182.1 494.1 180.7 494.7 179.4 495.4 178.0 496.1 176.7 496.8 175.3 497.5 174.0 498.3 172.6 499.0 171.3 499.8 170.0 500.6 168.7 501.4 167.4 502.2 166.2 503.1 164.9 503.9 163.6 504.8 162.4 505.7 161.2 506.6 159.9 507.5 158.7 508.4 157.5 509.4 156.3 510.4 155.2 511.3 154.0 512.3 152.9 513.3 151.7 514.3 150.6 515.4 149.5 516.4 148.4 517.5 147.3 518.5 146.2 519.6 145.2 520.7 144.1 521.8 143.1 522.9 142.1 524.0 141.1 525.2 140.1 526.3 139.1 527.5 138.2 528.6 137.2 529.8 136.3 531.0 135.4 532.2 134.4 533.4 133.5 534.6 132.6 535.8 131.8 537.0 130.9 538.3 130.0 539.5 129.2 540.8 128.4 542.0 127.5 543.3 126.7 544.6 125.9 545.9 125.1 547.1 124.3 548.4 123.6 549.7 122.8 551.1 122.1 552.4 121.3 553.7 120.6 555.0 119.8 556.4 119.1 557.7 118.4 559.0 117.7 560.4 117.0 561.7 116.3 563.1 115.7 564.5 115.0 565.8 114.3 567.2 113.7 568.6 113.0 569.9 112.4 571.3 111.8 572.7 111.2 574.1 110.5 575.5 109.9 576.9 109.3 578.3 108.7 579.7 108.1 581.1 107.5 582.5 107.0 583.9 106.4 585.3 105.8 586.7 105.3 588.1 104.7 589.5 104.2 590.9 103.6 592.3 103.1 593.7 102.5 595.2 102.0 596.6 101.5 598.0 101.0 599.4 100.5 600.8 100.0 602.3 99.5 603.7 99.0 605.1 98.5 606.6 98.0 608.0 97.5 609.4 97.0 610.9 96.6 612.3 96.1 613.8 95.6 615.2 95.2 616.6 94.7 618.1 94.3 619.5 93.9 621.0 93.4 622.4 93.0 623.9 92.6 625.3 92.1 626.8 91.7 628.3 91.3 629.7 90.9 631.2 90.5 632.6 90.1 634.1 89.7 635.5 89.3 637.0 88.9 638.5 88.5 639.9 88.1 641.4 87.7 642.9 87.4 644.3 87.0 645.8 86.6 647.3 86.3 648.7 85.9 650.2 85.5 651.7 85.2 653.1 84.8 654.6 84.5 656.1 84.1 657.6 83.8 659.0 83.4 660.5 83.1 662.0 82.8 663.5 82.4 664.9 82.1 666.4 81.8 667.9 81.5 669.4 81.1 670.9 80.8 672.3 80.5 673.8 80.2 675.3 79.8 676.8 79.5 678.3 79.2 679.7 78.9 681.2 78.6 682.7 78.3 684.2 77.9 685.6 77.6 687.1 77.3 688.6 77.0 690.1 76.7 691.6 76.3 693.0 76.0 694.5 75.7 696.0 75.4 697.5 75.0 698.9 74.7 700.4 74.3 701.9 74.0 703.3 73.7 704.8 73.3 706.3 73.0 707.8 72.6 709.2 72.3 710.7 71.9 712.2 71.5 713.6 71.1 715.1 70.8 716.5 70.4 718.0 70.0 719.5 69.6 720.9 69.2 722.4 68.8 723.8 68.4 725.3 68.0 726.7 67.5 728.2 67.1 729.6 66.7 731.1 66.2 732.5 65.7 733.9 65.3 735.4 64.8 736.8 64.3 738.2 63.8 739.7 63.3 741.1 62.8 742.5 62.3 744.0 61.8 745.4 61.2 746.8 60.7 746.9 62.2 747.0 63.8 747.0 65.3 746.9 66.8 746.8 68.3 746.7 69.8 746.5 71.3 746.3 72.8 746.0 74.2 745.7 75.7 745.3 77.1 744.9 78.5 744.5 80.0 744.0 81.4 743.5 82.8 742.9 84.1 742.4 85.5 741.8 86.9 741.1 88.2 740.4 89.6 739.7 90.9 739.0 92.2 738.2 93.5 737.5 94.8 736.6 96.1 735.8 97.3 735.0 98.6 734.1 99.9 733.2 101.1 732.3 102.3 731.3 103.5 730.4 104.7 729.4 105.9 728.4 107.1 727.4 108.3 726.4 109.4 725.4 110.6 724.4 111.7 723.4 112.8 722.3 113.9 721.3 115.0 720.2 116.1 719.2 117.2 718.1 118.2 717.0 119.3 715.9 120.3 714.8 121.3 713.7 122.3 712.6 123.3 711.5 124.3 710.4 125.3 709.2 126.2 708.1 127.2 706.9 128.1 705.8 129.0 704.6 129.9 703.4 130.8 702.2 131.7 700.9 132.5 699.7 133.4 698.5 134.2 697.2 135.0 696.0 135.9 694.7 136.7 693.4 137.5 692.2 138.3 690.9 139.1 689.6 139.8 688.3 140.6 687.0 141.4 685.7 142.2 684.4 142.9 683.1 143.7 681.8 144.5 680.5 145.3 679.2 146.0 677.9 146.8 676.6 147.5 675.2 148.3 673.9 149.0 672.6 149.7 671.3 150.5 669.9 151.2 668.6 151.9 667.3 152.6 665.9 153.3 664.6 154.0 663.2 154.7 661.9 155.3 660.5 156.0 659.2 156.6 657.8 157.3 656.4 157.9 655.0 158.5 653.7 159.1 652.3 159.7 650.9 160.3 649.5 160.8 648.1 161.4 646.7 161.9 645.3 162.5 643.9 163.0 642.4 163.5 641.0 164.0 639.6 164.5 638.2 165.0 636.7 165.5 635.3 166.0 633.9 166.4 632.4 166.9 631.0 167.4 629.6 167.8 628.1 168.3 626.7 168.7 625.2 169.2 623.8 169.6 622.3 170.0 620.9 170.5 619.5 170.9 618.0 171.3 616.6 171.8 615.1 172.2 613.7 172.6 612.2 173.1 610.8 173.5 609.3 173.9 607.9 174.4 606.4 174.8 605.0 175.3 603.6 175.7 602.1 176.2 600.7 176.6 599.3 177.1 597.8 177.5 596.4 178.0 595.0 178.4 593.6 178.9 592.1 179.4 590.7 179.9 589.3 180.3 587.9 180.8 586.4 181.3 585.0 181.8 583.6 182.3 582.2 182.7 580.8 183.2 579.3 183.7 577.9 184.2 576.5 184.6 575.1 185.1 573.6 185.6 572.2 186.0 570.8 186.5 569.3 186.9 567.9 187.4 566.5 187.8 565.0 188.2 563.6 188.7 562.1 189.1 560.7 189.5 559.2 189.9 557.8 190.3 556.3 190.7 554.8 191.1 553.4 191.4 551.9 191.8 550.4 192.2 548.9 192.5 547.4 192.8 545.9 193.1 544.4 193.5 543.0 193.8 541.5 194.1 540.0 194.4 538.5 194.7 536.9 195.0 535.4 195.3 533.9 195.6 532.4 195.9 531.0 196.3 529.5 196.6 528.0 196.9 526.5 197.2 525.0 197.6 523.5 197.9 522.0 198.3 520.6 198.6 519.1 199.0 517.6 199.4 516.2 199.8 514.7 200.3 513.3 200.7 511.9 201.1 510.5 201.6 509.1 202.1 507.7 202.6 506.3 203.2 504.9 203.7 503.5 204.3 502.2 204.9 500.8 205.6 499.5 206.2 498.2 206.9 496.9 207.6 495.6 208.4 494.4 209.2 493.2 210.0 492.0 210.9 490.8 211.9 489.7 212.9 488.6 213.9 487.6 215.0 486.6 216.2 485.7 217.4Z" fill="none" stroke="#242478" stroke-width="1.3" stroke-linejoin="miter" stroke-miterlimit="20"/>
<path d="M484.8 249.5 484.8 248.0 484.7 246.5 484.7 244.9 484.8 243.4 484.8 241.9 484.8 240.4 484.9 238.9 485.0 237.4 485.1 235.9 485.2 234.4 485.3 232.8 485.5 231.3 485.7 229.8 485.8 228.3 486.0 226.8 486.3 225.3 486.5 223.9 486.7 222.4 487.0 220.9 487.3 219.4 487.6 217.9 487.9 216.4 488.2 215.0 488.5 213.5 488.9 212.0 489.3 210.6 489.7 209.1 490.1 207.7 490.5 206.2 490.9 204.8 491.4 203.4 491.9 201.9 492.3 200.5 492.8 199.1 493.4 197.7 493.9 196.2 494.4 194.8 495.0 193.4 495.6 192.0 496.1 190.7 496.7 189.3 497.4 187.9 498.0 186.5 498.6 185.2 499.3 183.8 499.9 182.4 500.6 181.1 501.3 179.8 502.0 178.4 502.8 177.1 503.5 175.8 504.2 174.5 505.0 173.2 505.8 171.9 506.6 170.6 507.4 169.3 508.2 168.0 509.0 166.8 509.8 165.5 510.7 164.3 511.5 163.0 512.4 161.8 513.3 160.6 514.2 159.4 515.1 158.2 516.0 157.0 516.9 155.8 517.9 154.6 518.8 153.4 519.8 152.3 520.8 151.1 521.7 150.0 522.7 148.8 523.7 147.7 524.7 146.6 525.7 145.4 526.8 144.3 527.8 143.2 528.9 142.2 529.9 141.1 531.0 140.0 532.0 138.9 533.1 137.9 534.2 136.8 535.3 135.8 536.4 134.8 537.5 133.7 538.6 132.7 539.8 131.7 540.9 130.7 542.1 129.7 543.2 128.8 544.4 127.8 545.5 126.8 546.7 125.9 547.9 124.9 549.1 124.0 550.2 123.1 551.4 122.2 552.6 121.2 553.8 120.3 555.0 119.4 556.3 118.5 557.5 117.6 558.7 116.8 559.9 115.9 561.2 115.0 562.4 114.2 563.6 113.3 564.9 112.5 566.1 111.6 567.4 110.8 568.7 110.0 569.9 109.1 571.2 108.3 572.4 107.5 573.7 106.7 575.0 105.9 576.3 105.1 577.6 104.3 578.8 103.5 580.1 102.8 581.4 102.0 582.7 101.2 584.0 100.5 585.3 99.7 586.6 99.0 587.9 98.2 589.3 97.5 590.6 96.7 591.9 96.0 593.2 95.3 594.5 94.6 595.9 93.9 597.2 93.1 598.5 92.4 599.9 91.7 601.2 91.0 602.5 90.4 603.9 89.7 605.2 89.0 606.6 88.3 607.9 87.6 609.3 87.0 610.6 86.3 612.0 85.7 613.4 85.0 614.7 84.3 616.1 83.7 617.5 83.1 618.8 82.4 620.2 81.8 621.6 81.2 622.9 80.5 624.3 79.9 625.7 79.3 627.1 78.7 628.5 78.0 629.8 77.4 631.2 76.8 632.6 76.2 634.0 75.6 635.4 75.0 636.8 74.4 638.2 73.9 639.6 73.3 641.0 72.7 642.4 72.1 643.8 71.5 645.2 70.9 646.5 70.4 647.9 69.8 649.4 69.2 650.8 68.7 652.2 68.1 653.6 67.6 655.0 67.0 656.4 66.4 657.8 65.9 659.2 65.3 660.6 64.8 662.0 64.3 663.4 63.7 664.8 63.2 666.2 62.6 667.6 62.1 669.0 61.6 670.4 61.0 671.9 60.5 673.3 59.9 674.7 59.4 676.1 58.9 677.5 58.4 678.9 57.8 680.3 57.3 681.7 56.8 683.1 56.2 684.5 55.7 686.0 55.2 687.4 54.6 688.8 54.1 690.2 53.6 691.6 53.0 693.0 52.5 694.4 52.0 695.8 51.4 697.2 50.9 698.6 50.3 700.0 49.8 701.4 49.2 702.8 48.7 704.2 48.1 705.6 47.6 707.0 47.0 708.4 46.5 709.8 45.9 711.2 45.3 712.6 44.8 714.0 44.2 715.4 43.6 716.7 43.0 718.1 42.4 719.5 41.9 720.9 41.3 722.3 40.7 723.7 40.1 725.0 39.5 726.4 38.8 727.8 38.2 729.2 37.6 730.5 37.0 731.9 36.3 733.3 35.7 734.6 35.0 736.0 34.4 737.4 33.7 738.7 33.1 740.1 32.4 741.4 31.7 742.8 31.0 744.1 30.3 745.5 29.6 746.8 28.9 746.8 30.4 746.8 31.9 746.8 33.5 746.8 35.0 746.7 36.5 746.7 38.0 746.6 39.5 746.5 41.0 746.3 42.5 746.2 44.0 746.0 45.5 745.8 47.0 745.6 48.5 745.4 50.0 745.2 51.5 744.9 53.0 744.6 54.4 744.3 55.9 744.0 57.4 743.6 58.8 743.3 60.3 742.9 61.7 742.5 63.2 742.0 64.6 741.6 66.1 741.1 67.5 740.6 68.9 740.1 70.3 739.6 71.7 739.1 73.1 738.5 74.5 737.9 75.9 737.3 77.3 736.7 78.7 736.1 80.0 735.4 81.4 734.8 82.8 734.1 84.1 733.4 85.4 732.7 86.8 732.0 88.1 731.2 89.4 730.5 90.7 729.7 92.0 729.0 93.3 728.2 94.6 727.4 95.9 726.6 97.2 725.7 98.5 724.9 99.7 724.1 101.0 723.2 102.2 722.3 103.4 721.5 104.7 720.6 105.9 719.7 107.1 718.8 108.3 717.9 109.5 716.9 110.7 716.0 111.9 715.1 113.0 714.1 114.2 713.1 115.3 712.1 116.5 711.1 117.6 710.1 118.7 709.1 119.8 708.1 120.9 707.1 122.0 706.0 123.1 705.0 124.1 703.9 125.2 702.8 126.3 701.7 127.3 700.6 128.3 699.5 129.4 698.4 130.4 697.3 131.4 696.2 132.4 695.1 133.4 693.9 134.4 692.8 135.4 691.6 136.4 690.5 137.3 689.3 138.3 688.2 139.3 687.0 140.2 685.8 141.2 684.6 142.1 683.5 143.1 682.3 144.0 681.1 144.9 679.9 145.9 678.7 146.8 677.5 147.7 676.3 148.6 675.1 149.5 673.8 150.4 672.6 151.3 671.4 152.1 670.2 153.0 668.9 153.9 667.7 154.7 666.4 155.6 665.2 156.4 663.9 157.2 662.7 158.0 661.4 158.9 660.1 159.7 658.9 160.5 657.6 161.3 656.3 162.1 655.0 162.8 653.7 163.6 652.4 164.4 651.1 165.2 649.8 165.9 648.5 166.7 647.2 167.4 645.9 168.1 644.6 168.9 643.3 169.6 642.0 170.3 640.6 171.0 639.3 171.7 638.0 172.4 636.6 173.1 635.3 173.8 633.9 174.5 632.6 175.1 631.3 175.8 629.9 176.5 628.6 177.1 627.2 177.8 625.9 178.5 624.5 179.1 623.1 179.8 621.8 180.4 620.4 181.1 619.1 181.8 617.7 182.4 616.4 183.1 615.0 183.7 613.6 184.4 612.3 185.0 610.9 185.7 609.5 186.3 608.2 186.9 606.8 187.6 605.4 188.2 604.1 188.9 602.7 189.5 601.4 190.1 600.0 190.8 598.6 191.4 597.3 192.1 595.9 192.7 594.5 193.3 593.1 194.0 591.8 194.6 590.4 195.2 589.0 195.9 587.7 196.5 586.3 197.1 584.9 197.8 583.6 198.4 582.2 199.1 580.8 199.7 579.5 200.3 578.1 201.0 576.7 201.6 575.4 202.2 574.0 202.9 572.6 203.5 571.3 204.1 569.9 204.8 568.5 205.4 567.2 206.0 565.8 206.7 564.4 207.3 563.1 207.9 561.7 208.6 560.3 209.2 559.0 209.8 557.6 210.5 556.2 211.1 554.9 211.7 553.5 212.4 552.1 213.0 550.8 213.7 549.4 214.3 548.0 214.9 546.7 215.6 545.3 216.2 543.9 216.8 542.6 217.5 541.2 218.1 539.9 218.8 538.5 219.4 537.1 220.0 535.8 220.7 534.4 221.3 533.0 222.0 531.7 222.6 530.3 223.2 528.9 223.9 527.6 224.5 526.2 225.2 524.8 225.8 523.5 226.5 522.1 227.1 520.7 227.7 519.4 228.4 518.0 229.0 516.7 229.7 515.3 230.3 513.9 231.0 512.6 231.7 511.2 232.3 509.9 233.0 508.6 233.7 507.2 234.4 505.9 235.1 504.6 235.8 503.2 236.6 501.9 237.3 500.6 238.1 499.4 238.8 498.1 239.6 496.8 240.4 495.5 241.2 494.3 242.1 493.1 242.9 491.8 243.8 490.6 244.7 489.4 245.6 488.2 246.5 487.1 247.5 485.9 248.5Z" fill="none" stroke="#2b6e2d" stroke-width="1.3" stroke-linejoin="miter" stroke-miterlimit="20"/>
<path d="M58.1 265.4V3.7H381.6V265.4M381.6 261.9H58.1" fill="none" stroke="#000" stroke-width="2"/>
<line x1="90.45" y1="261.9" x2="90.45" y2="267.9" stroke="#000" stroke-width="1.8"/>
<line x1="122.80" y1="261.9" x2="122.80" y2="265.4" stroke="#000" stroke-width="1.8"/>
<line x1="155.15" y1="261.9" x2="155.15" y2="267.9" stroke="#000" stroke-width="1.8"/>
<line x1="187.50" y1="261.9" x2="187.50" y2="265.4" stroke="#000" stroke-width="1.8"/>
<line x1="219.85" y1="261.9" x2="219.85" y2="267.9" stroke="#000" stroke-width="1.8"/>
<line x1="252.20" y1="261.9" x2="252.20" y2="265.4" stroke="#000" stroke-width="1.8"/>
<line x1="284.55" y1="261.9" x2="284.55" y2="267.9" stroke="#000" stroke-width="1.8"/>
<line x1="316.90" y1="261.9" x2="316.90" y2="265.4" stroke="#000" stroke-width="1.8"/>
<line x1="349.25" y1="261.9" x2="349.25" y2="267.9" stroke="#000" stroke-width="1.8"/>
<text x="90.45" y="281.7" class="tl" text-anchor="middle">-0.4</text>
<text x="155.15" y="281.7" class="tl" text-anchor="middle">-0.2</text>
<text x="219.85" y="281.7" class="tl" text-anchor="middle">0.0</text>
<text x="284.55" y="281.7" class="tl" text-anchor="middle">0.2</text>
<text x="349.25" y="281.7" class="tl" text-anchor="middle">0.4</text>
<line x1="52.6" y1="248.99" x2="58.1" y2="248.99" stroke="#000" stroke-width="1.8"/>
<line x1="55.1" y1="229.62" x2="58.1" y2="229.62" stroke="#000" stroke-width="1.8"/>
<line x1="52.6" y1="210.26" x2="58.1" y2="210.26" stroke="#000" stroke-width="1.8"/>
<line x1="55.1" y1="190.89" x2="58.1" y2="190.89" stroke="#000" stroke-width="1.8"/>
<line x1="52.6" y1="171.53" x2="58.1" y2="171.53" stroke="#000" stroke-width="1.8"/>
<line x1="55.1" y1="152.16" x2="58.1" y2="152.16" stroke="#000" stroke-width="1.8"/>
<line x1="52.6" y1="132.80" x2="58.1" y2="132.80" stroke="#000" stroke-width="1.8"/>
<line x1="55.1" y1="113.44" x2="58.1" y2="113.44" stroke="#000" stroke-width="1.8"/>
<line x1="52.6" y1="94.07" x2="58.1" y2="94.07" stroke="#000" stroke-width="1.8"/>
<line x1="55.1" y1="74.70" x2="58.1" y2="74.70" stroke="#000" stroke-width="1.8"/>
<line x1="52.6" y1="55.34" x2="58.1" y2="55.34" stroke="#000" stroke-width="1.8"/>
<line x1="55.1" y1="35.97" x2="58.1" y2="35.97" stroke="#000" stroke-width="1.8"/>
<line x1="52.6" y1="16.61" x2="58.1" y2="16.61" stroke="#000" stroke-width="1.8"/>
<text x="49.6" y="253.29" class="tl" text-anchor="end">-9</text>
<text x="49.6" y="214.56" class="tl" text-anchor="end">-6</text>
<text x="49.6" y="175.83" class="tl" text-anchor="end">-3</text>
<text x="49.6" y="137.10" class="tl" text-anchor="end">0</text>
<text x="49.6" y="98.37" class="tl" text-anchor="end">3</text>
<text x="49.6" y="59.64" class="tl" text-anchor="end">6</text>
<text x="49.6" y="20.91" class="tl" text-anchor="end">9</text>
<path d="M452.2 270.5V5.8H779.7V270.5M779.7 267.0H452.2" fill="none" stroke="#000" stroke-width="2"/>
<line x1="484.95" y1="267.0" x2="484.95" y2="273.0" stroke="#000" stroke-width="1.8"/>
<line x1="517.70" y1="267.0" x2="517.70" y2="270.5" stroke="#000" stroke-width="1.8"/>
<line x1="550.45" y1="267.0" x2="550.45" y2="273.0" stroke="#000" stroke-width="1.8"/>
<line x1="583.20" y1="267.0" x2="583.20" y2="270.5" stroke="#000" stroke-width="1.8"/>
<line x1="615.95" y1="267.0" x2="615.95" y2="273.0" stroke="#000" stroke-width="1.8"/>
<line x1="648.70" y1="267.0" x2="648.70" y2="270.5" stroke="#000" stroke-width="1.8"/>
<line x1="681.45" y1="267.0" x2="681.45" y2="273.0" stroke="#000" stroke-width="1.8"/>
<line x1="714.20" y1="267.0" x2="714.20" y2="270.5" stroke="#000" stroke-width="1.8"/>
<line x1="746.95" y1="267.0" x2="746.95" y2="273.0" stroke="#000" stroke-width="1.8"/>
<text x="484.95" y="287.0" class="tl" text-anchor="middle">-0.4</text>
<text x="550.45" y="287.0" class="tl" text-anchor="middle">-0.2</text>
<text x="615.95" y="287.0" class="tl" text-anchor="middle">0.0</text>
<text x="681.45" y="287.0" class="tl" text-anchor="middle">0.2</text>
<text x="746.95" y="287.0" class="tl" text-anchor="middle">0.4</text>
<line x1="446.7" y1="267.00" x2="452.2" y2="267.00" stroke="#000" stroke-width="1.8"/>
<line x1="449.2" y1="245.23" x2="452.2" y2="245.23" stroke="#000" stroke-width="1.8"/>
<line x1="446.7" y1="223.47" x2="452.2" y2="223.47" stroke="#000" stroke-width="1.8"/>
<line x1="449.2" y1="201.70" x2="452.2" y2="201.70" stroke="#000" stroke-width="1.8"/>
<line x1="446.7" y1="179.93" x2="452.2" y2="179.93" stroke="#000" stroke-width="1.8"/>
<line x1="449.2" y1="158.17" x2="452.2" y2="158.17" stroke="#000" stroke-width="1.8"/>
<line x1="446.7" y1="136.40" x2="452.2" y2="136.40" stroke="#000" stroke-width="1.8"/>
<line x1="449.2" y1="114.63" x2="452.2" y2="114.63" stroke="#000" stroke-width="1.8"/>
<line x1="446.7" y1="92.87" x2="452.2" y2="92.87" stroke="#000" stroke-width="1.8"/>
<line x1="449.2" y1="71.10" x2="452.2" y2="71.10" stroke="#000" stroke-width="1.8"/>
<line x1="446.7" y1="49.33" x2="452.2" y2="49.33" stroke="#000" stroke-width="1.8"/>
<line x1="449.2" y1="27.57" x2="452.2" y2="27.57" stroke="#000" stroke-width="1.8"/>
<line x1="446.7" y1="5.80" x2="452.2" y2="5.80" stroke="#000" stroke-width="1.8"/>
<text x="443.7" y="271.30" class="tl" text-anchor="end">-6</text>
<text x="443.7" y="227.77" class="tl" text-anchor="end">-4</text>
<text x="443.7" y="184.23" class="tl" text-anchor="end">-2</text>
<text x="443.7" y="140.70" class="tl" text-anchor="end">0</text>
<text x="443.7" y="97.17" class="tl" text-anchor="end">2</text>
<text x="443.7" y="53.63" class="tl" text-anchor="end">4</text>
<text x="443.7" y="10.10" class="tl" text-anchor="end">6</text>
<line x1="276" y1="167.9" x2="305.3" y2="167.9" stroke="#303030" stroke-width="1.5"/>
<text transform="translate(308.2,173.1) scale(1.04,1)" style="font-size:14px">10 mV s<tspan dy="-7.2" style="font-size:13px">-1</tspan></text>
<line x1="276" y1="195.1" x2="305.3" y2="195.1" stroke="#b5504e" stroke-width="1.5"/>
<text transform="translate(308.2,200.3) scale(1.04,1)" style="font-size:14px">20 mV s<tspan dy="-7.2" style="font-size:13px">-1</tspan></text>
<line x1="276" y1="222.5" x2="305.3" y2="222.5" stroke="#30307e" stroke-width="1.5"/>
<text transform="translate(308.2,227.7) scale(1.04,1)" style="font-size:14px">50 mV s<tspan dy="-7.2" style="font-size:13px">-1</tspan></text>
<line x1="276" y1="249.8" x2="305.3" y2="249.8" stroke="#3a7a3c" stroke-width="1.5"/>
<text transform="translate(308.2,255.0) scale(1.04,1)" style="font-size:14px">100 mV s<tspan dy="-7.2" style="font-size:13px">-1</tspan></text>
<line x1="674.9" y1="170.6" x2="703.3" y2="170.6" stroke="#303030" stroke-width="1.5"/>
<text transform="translate(706.5,175.8) scale(1.05,1)" style="font-size:14.3px">10 mV s<tspan dy="-7.2" style="font-size:13px">-1</tspan></text>
<line x1="674.9" y1="198.3" x2="703.3" y2="198.3" stroke="#b5504e" stroke-width="1.5"/>
<text transform="translate(706.5,203.5) scale(1.05,1)" style="font-size:14.3px">20 mV s<tspan dy="-7.2" style="font-size:13px">-1</tspan></text>
<line x1="674.9" y1="226.2" x2="703.3" y2="226.2" stroke="#30307e" stroke-width="1.5"/>
<text transform="translate(706.5,231.4) scale(1.05,1)" style="font-size:14.3px">50 mV s<tspan dy="-7.2" style="font-size:13px">-1</tspan></text>
<line x1="674.9" y1="252.9" x2="703.3" y2="252.9" stroke="#3a7a3c" stroke-width="1.5"/>
<text transform="translate(706.5,258.1) scale(1.05,1)" style="font-size:14.3px">100 mV s<tspan dy="-7.2" style="font-size:13px">-1</tspan></text>
<text x="66.1" y="29.8" style="font-size:20px">(a)</text>
<text x="459.2" y="31.7" style="font-size:19px">(b)</text>
<text x="220" y="310.5" class="at" text-anchor="middle">Potential (V)</text>
<text x="615.9" y="315.9" class="at" text-anchor="middle" style="font-size:21px">Potential (V)</text>
<text transform="translate(23,240) rotate(-90) scale(0.985,1)" style="font-size:21.5px">Current density (A g<tspan dx="-0.5" dy="-13.5" style="font-size:15px">-1</tspan><tspan dy="13.5">)</tspan></text>
<text transform="translate(418,244) rotate(-90) scale(1.005,1)" style="font-size:21.5px">Current density (A g<tspan dx="-0.5" dy="-13.5" style="font-size:15px">-1</tspan><tspan dy="13.5">)</tspan></text>
</svg>
</body></html>
